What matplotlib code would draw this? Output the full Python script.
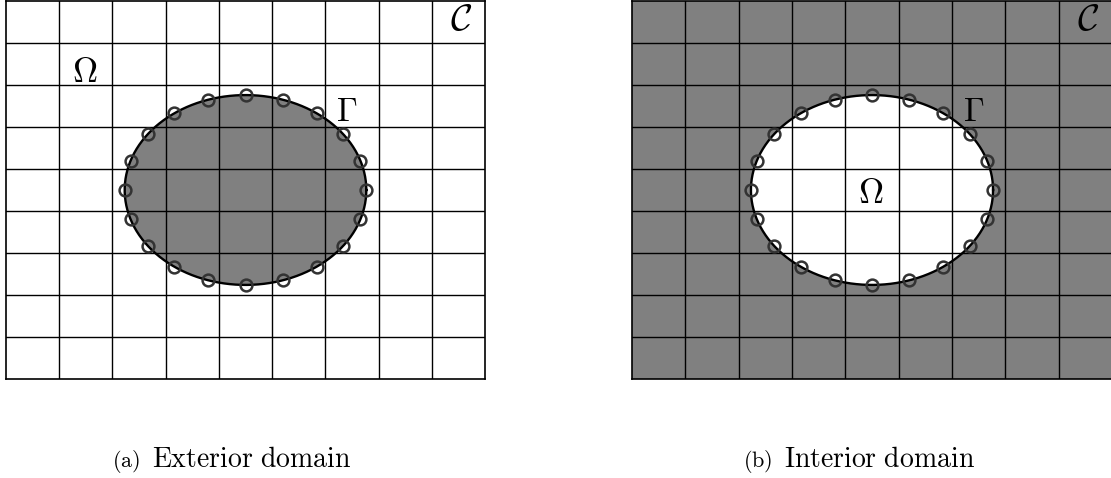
import numpy as np
import matplotlib
matplotlib.use('Agg')
import matplotlib.pyplot as plt
from matplotlib.patches import Ellipse

plt.rcParams['mathtext.fontset'] = 'cm'

# Cartesian grid C: 9 x 9 cells
n_cols = 9
n_rows = 9

# Immersed boundary Gamma (circle in grid units) and its collocation nodes
center = (4.5, 4.5)
radius_x = 2.27
radius_y = 2.26
n_nodes = 20

panels = ['exterior', 'interior']
captions = [r'$\mathrm{Exterior\ domain}$', r'$\mathrm{Interior\ domain}$']
tags = [r'$\mathrm{(a)}$', r'$\mathrm{(b)}$']

# label positions (grid units): Omega, Gamma, C
omega_pos = [(1.48, 7.07), (4.48, 4.19)]
gamma_pos = [(6.4, 6.14), (6.4, 6.14)]
curly_c_pos = [(8.55, 8.32), (8.55, 8.32)]

shade = '#808080'

fig = plt.figure(figsize=(11.11, 4.78), dpi=100)
ax_a = fig.add_axes([6 / 1111, 99 / 478, 479 / 1111, 378 / 478])
ax_b = fig.add_axes([632 / 1111, 99 / 478, 480 / 1111, 378 / 478])

theta = np.linspace(0, 2 * np.pi, 400)
node_t = np.arange(n_nodes) * 2 * np.pi / n_nodes

for i, ax in enumerate([ax_a, ax_b]):
    ax.set_xlim(0, n_cols)
    ax.set_ylim(0, n_rows)
    ax.set_xticks([])
    ax.set_yticks([])

    if panels[i] == 'exterior':
        bg, fill = 'white', shade
    else:
        bg, fill = shade, 'white'
    ax.set_facecolor(bg)
    ax.add_patch(Ellipse(center, 2 * radius_x, 2 * radius_y,
                         facecolor=fill, edgecolor='none', zorder=1))

    # grid lines on top of the shading
    for k in range(1, n_cols):
        ax.axvline(k, color='black', lw=1.0, zorder=2)
    for k in range(1, n_rows):
        ax.axhline(k, color='black', lw=1.0, zorder=2)
    for s in ax.spines.values():
        s.set_linewidth(1.2)
        s.set_zorder(5)

    ax.plot(center[0] + radius_x * np.cos(theta),
            center[1] + radius_y * np.sin(theta),
            color='black', lw=1.7, zorder=3)
    ax.plot(center[0] + radius_x * np.cos(node_t),
            center[1] + radius_y * np.sin(node_t),
            'o', ms=8.5, mfc='none', mec='#333333', mew=1.8, zorder=4)

    ax.text(*omega_pos[i], r'$\Omega$', fontsize=25, ha='center', va='baseline', zorder=6)
    ax.text(*gamma_pos[i], r'$\Gamma$', fontsize=24, ha='center', va='baseline', zorder=6)
    ax.text(*curly_c_pos[i], r'$\mathcal{C}$', fontsize=27, ha='center', va='baseline', zorder=6)

# sub-captions
fig.text(140 / 1111, 11 / 478, tags[0], fontsize=16, ha='right', va='baseline')
fig.text(152 / 1111, 11 / 478, captions[0], fontsize=20, ha='left', va='baseline')
fig.text(772 / 1111, 11 / 478, tags[1], fontsize=16, ha='right', va='baseline')
fig.text(784 / 1111, 11 / 478, captions[1], fontsize=20, ha='left', va='baseline')

fig.savefig('out.png', dpi=100)
